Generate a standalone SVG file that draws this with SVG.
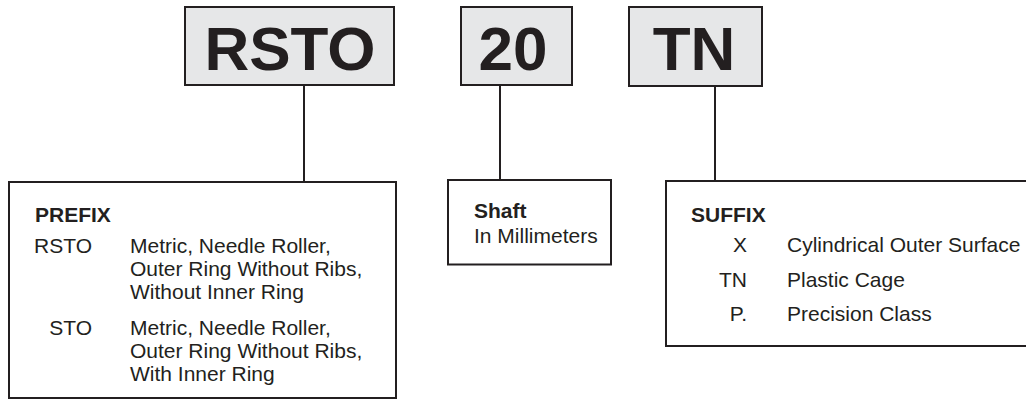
<svg xmlns="http://www.w3.org/2000/svg" width="1026" height="400" viewBox="0 0 1026 400">
<style>
.code{fill:#e6e7e8;stroke:#231f20;stroke-width:2}
.box{fill:#ffffff;stroke:#231f20;stroke-width:2}
.big{font-family:"Liberation Sans",Arial,sans-serif;font-weight:bold;font-size:62px;fill:#231f20;text-anchor:middle}
.t{font-family:"Liberation Sans",Arial,sans-serif;font-size:21px;fill:#231f20}
.b{font-weight:bold}
.r{text-anchor:end}
.conn{stroke:#231f20;stroke-width:2;fill:none}
</style>
<rect width="1026" height="400" fill="#ffffff"/>
<g id="connectors">
<line class="conn" x1="304" y1="85" x2="304" y2="182"/>
<line class="conn" x1="500" y1="85" x2="500" y2="180"/>
<line class="conn" x1="715" y1="86" x2="715" y2="181"/>
</g>
<g id="node-rsto">
<rect class="code" x="185" y="7" width="209" height="78"/>
<text class="big" x="290" y="70">RSTO</text>
</g>
<g id="node-20">
<rect class="code" x="461" y="7" width="111" height="78"/>
<text class="big" x="513" y="70">20</text>
</g>
<g id="node-tn">
<rect class="code" x="629" y="7" width="133" height="79"/>
<text class="big" x="694" y="70">TN</text>
</g>
<g id="node-prefix">
<rect class="box" x="9" y="182" width="387" height="216"/>
<text class="t b" x="35" y="222">PREFIX</text>
<text class="t r" x="92" y="253">RSTO</text>
<text class="t" x="130" y="253">Metric, Needle Roller,</text>
<text class="t" x="130" y="276">Outer Ring Without Ribs,</text>
<text class="t" x="130" y="299">Without Inner Ring</text>
<text class="t r" x="92" y="335">STO</text>
<text class="t" x="130" y="335">Metric, Needle Roller,</text>
<text class="t" x="130" y="358">Outer Ring Without Ribs,</text>
<text class="t" x="130" y="381">With Inner Ring</text>
</g>
<g id="node-shaft">
<rect class="box" x="448" y="180" width="163" height="84.5"/>
<text class="t b" x="474" y="218">Shaft</text>
<text class="t" x="474" y="243">In Millimeters</text>
</g>
<g id="node-suffix">
<rect class="box" x="666" y="181" width="370" height="165"/>
<text class="t b" x="691" y="222">SUFFIX</text>
<text class="t r" x="747" y="252">X</text>
<text class="t" x="787" y="252">Cylindrical Outer Surface</text>
<text class="t r" x="747" y="287">TN</text>
<text class="t" x="787" y="287">Plastic Cage</text>
<text class="t r" x="747" y="321">P.</text>
<text class="t" x="787" y="321">Precision Class</text>
</g>
</svg>
